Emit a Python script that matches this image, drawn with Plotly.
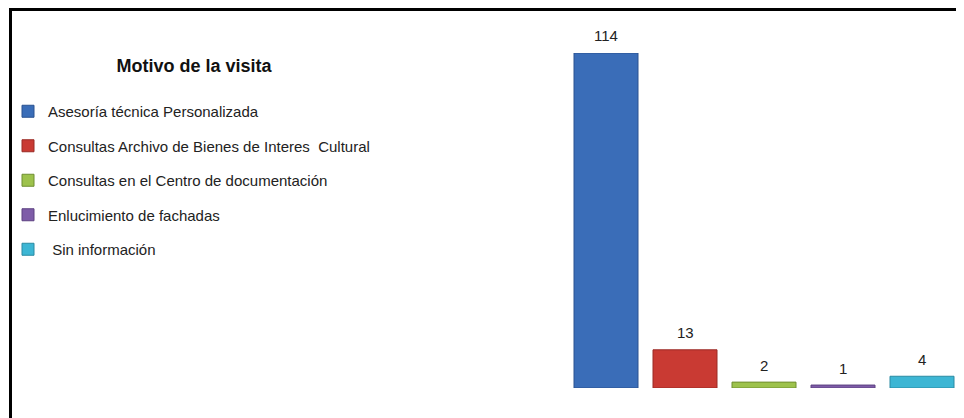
import plotly.graph_objects as go

categorias = [
    "Asesoría técnica Personalizada",
    "Consultas Archivo de Bienes de Interes  Cultural",
    "Consultas en el Centro de documentación",
    "Enlucimiento de fachadas",
    " Sin información",
]
valores = [114, 13, 2, 1, 4]
colores = ["#3A6DB8", "#C93A33", "#9DC24C", "#7E5CA8", "#3DB6D4"]
bordes = ["#2A5290", "#9A2A25", "#6F8E30", "#5C4080", "#2A8AA3"]
titulo = "Motivo de la visita"

# page body has an 8px margin, so the figure is 8px smaller on each axis
W, H = 956, 410

fig = go.Figure()
for i, (cat, val) in enumerate(zip(categorias, valores)):
    fig.add_trace(go.Bar(
        x=[i], y=[val], name=cat, width=0.81,
        marker=dict(color=colores[i], line=dict(color=bordes[i], width=1)),
        legendgroup=f"g{i}", hoverinfo="skip",
    ))
    fig.add_annotation(
        x=i, y=val, text=str(val), showarrow=False,
        yanchor="middle", yshift=17,
        font=dict(family="Liberation Sans, Arial", size=15, color="#222222"),
    )

fig.update_layout(
    width=W, height=H,
    margin=dict(l=0, r=0, t=0, b=0),
    paper_bgcolor="white", plot_bgcolor="white",
    barmode="overlay",
    showlegend=True,
    title=dict(
        text=f"<b>{titulo}</b>", x=186 / W, xanchor="center", xref="paper",
        y=1 - 58 / H, yanchor="middle", yref="container",
        font=dict(family="Liberation Sans, Arial", size=18, color="#111111"),
    ),
    legend=dict(
        x=0, xanchor="left", y=1 - 87 / H, yanchor="top",
        font=dict(family="Liberation Sans, Arial", size=15, color="#222222"),
        tracegroupgap=12, bgcolor="rgba(0,0,0,0)",
        itemclick=False, itemdoubleclick=False,
    ),
    xaxis=dict(domain=[558.5 / W, 953.5 / W], range=[-0.5, 4.5],
               visible=False, fixedrange=True),
    yaxis=dict(domain=[30 / H, 365 / H], range=[0, 114],
               visible=False, fixedrange=True),
    shapes=[
        dict(type="line", xref="paper", yref="paper",
             x0=2.5 / W, x1=2.5 / W, y0=0, y1=1,
             line=dict(color="black", width=3)),
        dict(type="line", xref="paper", yref="paper",
             x0=1 / W, x1=1, y0=1 - 1.5 / H, y1=1 - 1.5 / H,
             line=dict(color="black", width=3)),
    ],
)

fig.write_html("out.html", config={"displayModeBar": False})
